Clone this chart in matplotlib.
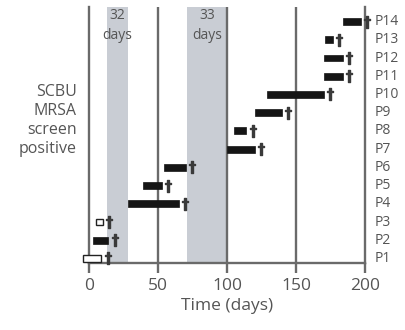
import matplotlib
matplotlib.use("Agg")
import matplotlib.pyplot as plt

# patient timelines (days)
patients = ["P1", "P2", "P3", "P4", "P5", "P6", "P7", "P8", "P9", "P10", "P11", "P12", "P13", "P14"]
start_day = [-4, 3, 5, 28, 39, 54, 100, 105, 120, 129, 170, 170, 171, 184]
end_day = [9, 14, 10, 65, 53, 70, 120, 114, 140, 170, 184, 184, 177, 197]
open_bar = [True, False, True, False, False, False, False, False, False, False, False, False, False, False]

# shaded gaps
band_start = [13, 71]
band_end = [28, 100]
band_labels = ["32\ndays", "33\ndays"]

x_ticks = [0, 50, 100, 150, 200]

plt.rcParams['font.family'] = ['Open Sans', 'DejaVu Sans']
txt_col = "#555555"
line_col = "#6a6a6a"

fig = plt.figure(figsize=(4.05, 3.3), dpi=100)
ax = fig.add_axes([89 / 405, 1 - 263 / 330, 276 / 405, 256 / 330])

# gray bands with labels
for s, e, lab in zip(band_start, band_end, band_labels):
    ax.axvspan(s, e, color="#c9cdd4", lw=0, zorder=0)
    ax.text((s + e) / 2, 14.75, lab, ha="center", va="top", fontsize=10,
            color=txt_col, linespacing=1.45)

# vertical grid lines
for xv in [50, 100, 150]:
    ax.axvline(xv, color=line_col, lw=1.7, zorder=1)

# bars
ypos = list(range(1, len(patients) + 1))
for y, s, e, o in zip(ypos, start_day, end_day, open_bar):
    if o:
        ax.barh(y, e - s, left=s, height=0.38, color="white", edgecolor="#222222", lw=1.0,
                zorder=3, clip_on=False)
    else:
        ax.barh(y, e - s, left=s, height=0.38, color="#151515", edgecolor="#151515", lw=0.5, zorder=3)
    ax.plot(e + 4.5, y, marker=r"$\dagger$", ms=8, color="#3a3a3a", zorder=4, clip_on=False)

# patient labels on the right
for y, p in zip(ypos, patients):
    ax.text(207, y, p, ha="left", va="center", fontsize=10, color=txt_col, clip_on=False)

ax.text(-0.045, 0.555, "SCBU\nMRSA\nscreen\npositive", transform=ax.transAxes, ha="right",
        va="center", fontsize=11.5, color=txt_col, linespacing=1.25)

ax.set_xlim(0, 200)
ax.set_ylim(0.75, 14.8)
ax.set_xticks(x_ticks)
ax.set_xticklabels([str(v) for v in x_ticks], fontsize=12.5, color=txt_col)
ax.set_yticks([])
ax.tick_params(axis="x", direction="out", length=7, width=1.7, color=line_col, pad=4)
ax.set_xlabel("Time (days)", fontsize=12.5, color=txt_col, labelpad=3)

ax.spines["top"].set_visible(False)
for side in ["left", "right", "bottom"]:
    ax.spines[side].set_color(line_col)
    ax.spines[side].set_linewidth(1.7)

fig.savefig("out.png", dpi=100)
